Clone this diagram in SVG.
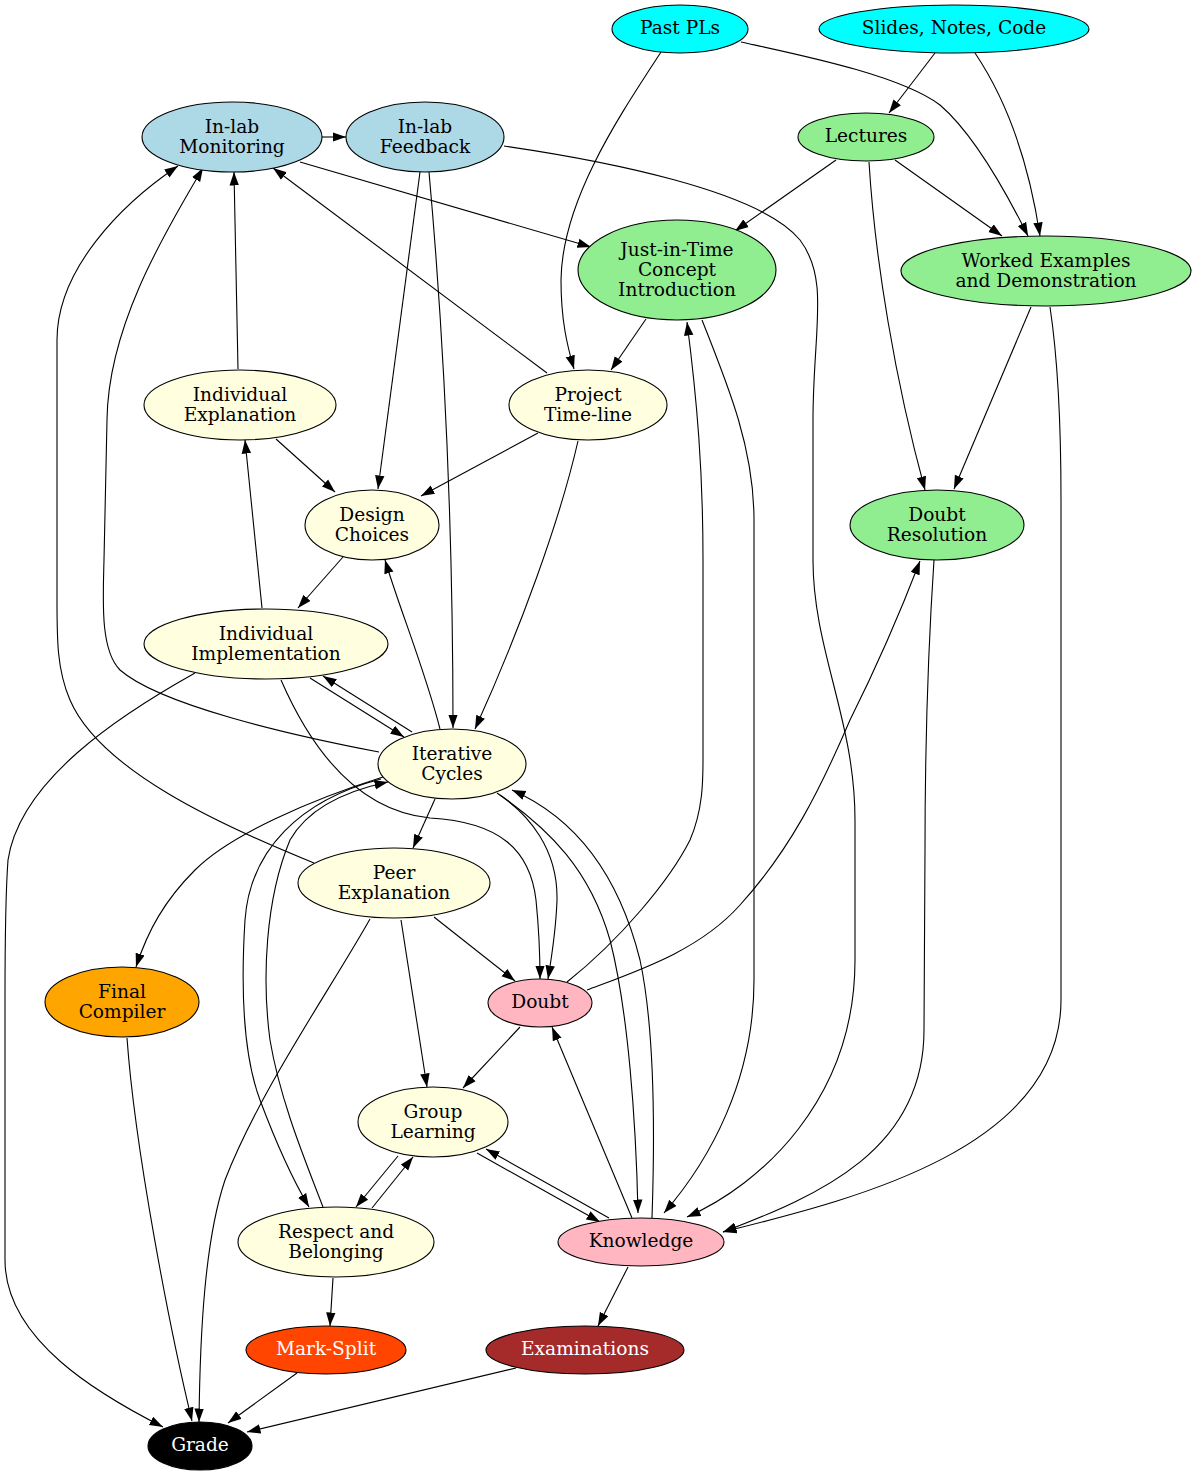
<svg xmlns="http://www.w3.org/2000/svg" width="1197" height="1475" viewBox="0 0 1197 1475">
<defs>
<style>
.n ellipse{stroke:#000;stroke-width:1.1}
text{font-family:"DejaVu Serif","Liberation Serif",serif;font-size:18.6px;text-anchor:middle;fill:#000}
.w text{fill:#fff}
.cy ellipse{fill:#00ffff}.lb ellipse{fill:#add8e6}.lg ellipse{fill:#90ee90}.ly ellipse{fill:#ffffe0}.pk ellipse{fill:#ffb6c1}
#edges path{fill:none;stroke:#000;stroke-width:1.1;marker-end:url(#arr)}
</style>
<marker id="arr" viewBox="0 0 10 7" refX="10" refY="3.5" markerWidth="13.5" markerHeight="10" markerUnits="userSpaceOnUse" orient="auto"><path d="M0,0 L10,3.5 L0,7 z" fill="#000"/></marker>
</defs>
<rect width="1197" height="1475" fill="#fff"/>
<g id="edges">
<path d="M661,52 C620,115 562,200 561,280 C561,320 567,345 574,369"/>
<path d="M741,42 C800,55 900,75 940,105 C975,135 1010,200 1028,236"/>
<path d="M935,53 L889,113"/>
<path d="M975,53 C1010,105 1030,170 1040,236"/>
<path d="M836,160 L735,231"/>
<path d="M895,160 L1002,236"/>
<path d="M869,162 C875,260 895,380 925,490"/>
<path d="M322,137 L346,137"/>
<path d="M300,162 L591,247"/>
<path d="M420,172 L378,489"/>
<path d="M429,172 C445,350 453,550 453,728"/>
<path d="M504,146 C600,160 760,190 800,240 C830,280 813,330 813,420 L813,560 C813,650 855,720 855,820 L855,960 C855,1100 760,1185 687,1217"/>
<path d="M646,319 L611,370"/>
<path d="M702,320 C730,390 754,450 754,520 L754,980 C754,1080 710,1160 664,1213"/>
<path d="M1031,307 L954,489"/>
<path d="M1050,307 C1058,360 1061,430 1061,500 L1061,1000 C1061,1150 850,1200 723,1232"/>
<path d="M238,369 L234,172"/>
<path d="M276,439 L335,492"/>
<path d="M547,373 L273,168"/>
<path d="M538,433 L421,496"/>
<path d="M578,441 C560,520 520,630 475,729"/>
<path d="M343,557 L298,608"/>
<path d="M262,608 L245,440"/>
<path d="M310,678 L404,737"/>
<path d="M412,732 L323,676"/>
<path d="M440,729 C425,670 400,610 385,560"/>
<path d="M379,752 C290,735 160,705 120,670 C100,650 103,600 104,560 L107,420 C108,330 160,240 203,168"/>
<path d="M314,863 C220,825 100,770 70,700 C57,670 57,640 57,600 L57,340 C57,270 120,205 178,166"/>
<path d="M195,673 C120,715 20,780 8,860 C5,900 5,950 5,1000 L5,1260 C5,1340 100,1395 163,1427"/>
<path d="M281,680 C305,735 350,810 430,818 C500,822 530,850 536,900 C539,930 540,955 540,979"/>
<path d="M497,793 C530,815 558,850 557,900 C556,930 552,955 548,979"/>
<path d="M435,799 L413,848"/>
<path d="M383,777 C310,800 230,835 195,870 C165,900 148,930 136,967"/>
<path d="M381,779 C300,800 250,850 245,920 C240,1000 245,1060 260,1100 C275,1140 290,1175 309,1207"/>
<path d="M323,1207 C305,1160 280,1100 270,1040 C262,980 265,900 290,840 C310,805 350,790 388,782"/>
<path d="M500,795 C550,830 590,870 610,940 C628,1010 636,1120 638,1213"/>
<path d="M652,1218 C655,1130 655,1030 640,960 C620,880 580,820 512,790"/>
<path d="M434,917 L515,981"/>
<path d="M401,920 L427,1087"/>
<path d="M370,919 C330,990 260,1090 225,1180 C205,1240 200,1330 199,1422"/>
<path d="M567,982 C620,940 670,880 690,840 C703,810 703,780 703,760 L703,560 C703,470 697,400 687,322"/>
<path d="M587,990 C640,970 700,950 740,905 C790,850 820,790 850,720 C880,660 905,600 920,561"/>
<path d="M520,1027 L463,1088"/>
<path d="M632,1218 L552,1027"/>
<path d="M398,1156 L356,1207"/>
<path d="M372,1208 L413,1157"/>
<path d="M477,1153 L600,1222"/>
<path d="M609,1218 L486,1149"/>
<path d="M934,560 C928,650 925,750 925,850 L924,1030 C924,1150 820,1195 723,1232"/>
<path d="M333,1278 L330,1326"/>
<path d="M628,1267 L598,1326"/>
<path d="M297,1373 L228,1423"/>
<path d="M516,1368 L247,1432"/>
<path d="M127,1038 C135,1150 170,1330 192,1421"/>
</g>
<g id="n-pastpls" class="n cy"><ellipse cx="680" cy="29" rx="68" ry="24"/><text x="680" y="34">Past PLs</text></g>
<g id="n-slides" class="n cy"><ellipse cx="954" cy="29" rx="135" ry="24"/><text x="954" y="34">Slides, Notes, Code</text></g>
<g id="n-inlabmon" class="n lb"><ellipse cx="232" cy="137" rx="90" ry="35"/><text x="232" y="132.5">In-lab</text><text x="232" y="152.5">Monitoring</text></g>
<g id="n-inlabfb" class="n lb"><ellipse cx="425" cy="137" rx="79" ry="35"/><text x="425" y="132.5">In-lab</text><text x="425" y="152.5">Feedback</text></g>
<g id="n-lectures" class="n lg"><ellipse cx="866" cy="137" rx="68" ry="24"/><text x="866" y="142">Lectures</text></g>
<g id="n-jit" class="n lg"><ellipse cx="677" cy="270" rx="99" ry="50"/><text x="677" y="255.5">Just-in-Time</text><text x="677" y="275.5">Concept</text><text x="677" y="295.5">Introduction</text></g>
<g id="n-worked" class="n lg"><ellipse cx="1046" cy="271" rx="145" ry="35"/><text x="1046" y="266.5">Worked Examples</text><text x="1046" y="286.5">and Demonstration</text></g>
<g id="n-indexpl" class="n ly"><ellipse cx="240" cy="405" rx="96" ry="35"/><text x="240" y="400.5">Individual</text><text x="240" y="420.5">Explanation</text></g>
<g id="n-project" class="n ly"><ellipse cx="588" cy="405" rx="79" ry="35"/><text x="588" y="400.5">Project</text><text x="588" y="420.5">Time-line</text></g>
<g id="n-design" class="n ly"><ellipse cx="372" cy="525" rx="67" ry="35"/><text x="372" y="520.5">Design</text><text x="372" y="540.5">Choices</text></g>
<g id="n-doubtres" class="n lg"><ellipse cx="937" cy="525" rx="87" ry="35"/><text x="937" y="520.5">Doubt</text><text x="937" y="540.5">Resolution</text></g>
<g id="n-indimpl" class="n ly"><ellipse cx="266" cy="644" rx="122" ry="35"/><text x="266" y="639.5">Individual</text><text x="266" y="659.5">Implementation</text></g>
<g id="n-iter" class="n ly"><ellipse cx="452" cy="764" rx="74" ry="35"/><text x="452" y="759.5">Iterative</text><text x="452" y="779.5">Cycles</text></g>
<g id="n-peer" class="n ly"><ellipse cx="394" cy="883" rx="96" ry="35"/><text x="394" y="878.5">Peer</text><text x="394" y="898.5">Explanation</text></g>
<g id="n-final" class="n"><ellipse cx="122" cy="1002" rx="77" ry="35" fill="#ffa500"/><text x="122" y="997.5">Final</text><text x="122" y="1017.5">Compiler</text></g>
<g id="n-doubt" class="n pk"><ellipse cx="540" cy="1003" rx="52" ry="24"/><text x="540" y="1008">Doubt</text></g>
<g id="n-group" class="n ly"><ellipse cx="433" cy="1122" rx="75" ry="35"/><text x="433" y="1117.5">Group</text><text x="433" y="1137.5">Learning</text></g>
<g id="n-respect" class="n ly"><ellipse cx="336" cy="1242" rx="98" ry="35"/><text x="336" y="1237.5">Respect and</text><text x="336" y="1257.5">Belonging</text></g>
<g id="n-knowledge" class="n pk"><ellipse cx="641" cy="1242" rx="83" ry="24"/><text x="641" y="1247">Knowledge</text></g>
<g id="n-marksplit" class="n w"><ellipse cx="326" cy="1350" rx="80" ry="24" fill="#ff4500"/><text x="326" y="1355">Mark-Split</text></g>
<g id="n-exams" class="n w"><ellipse cx="585" cy="1350" rx="99" ry="24" fill="#a52a2a"/><text x="585" y="1355">Examinations</text></g>
<g id="n-grade" class="n w"><ellipse cx="200" cy="1446" rx="52" ry="24" fill="#000"/><text x="200" y="1451">Grade</text></g>
</svg>
